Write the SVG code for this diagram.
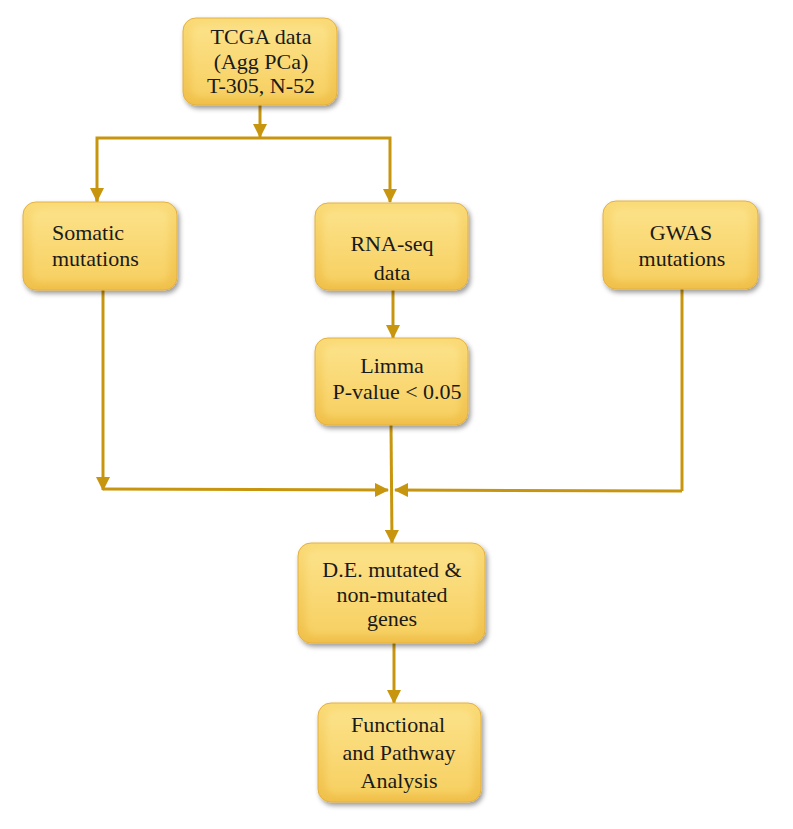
<svg xmlns="http://www.w3.org/2000/svg" width="793" height="829" viewBox="0 0 793 829">
<defs>
<linearGradient id="g" x1="0" y1="0" x2="0" y2="1">
<stop offset="0" stop-color="#FADB78"/>
<stop offset="1" stop-color="#F0C04A"/>
</linearGradient>
<linearGradient id="gi" x1="0" y1="0" x2="0" y2="1">
<stop offset="0" stop-color="#FCE289"/>
<stop offset="1" stop-color="#F7D062"/>
</linearGradient>
<filter id="sh" x="-10%" y="-10%" width="125%" height="130%">
<feDropShadow dx="2" dy="3" stdDeviation="2.5" flood-color="#000" flood-opacity="0.4"/>
</filter>
<filter id="bl"><feGaussianBlur stdDeviation="3"/></filter>
<marker id="ah" viewBox="0 0 14 14" refX="13" refY="7" markerWidth="14" markerHeight="14" markerUnits="userSpaceOnUse" orient="auto">
<path d="M0,0 L14,7 L0,14 z" fill="#C8960E"/>
</marker>
</defs>
<style>
.box{fill:url(#g);stroke:#E3B040;stroke-width:1;filter:url(#sh)}
.in{fill:url(#gi);filter:url(#bl)}
.t{font-family:"Liberation Serif","DejaVu Serif",serif;font-size:22px;fill:#1a1a1a;text-anchor:middle}
.c{fill:none;stroke:#C8960E;stroke-width:3}
</style>
<rect width="793" height="829" fill="#fff"/>
<g id="connectors">
<line class="c" x1="260" y1="105" x2="260" y2="137" marker-end="url(#ah)"/>
<polyline class="c" points="97,202 97,138 390,138 390,202" marker-end="url(#ah)"/>
<line class="c" x1="97" y1="190" x2="97" y2="201" marker-end="url(#ah)"/>
<line class="c" x1="393" y1="290" x2="393" y2="338" marker-end="url(#ah)"/>
<line class="c" x1="103" y1="290" x2="103" y2="490" marker-end="url(#ah)"/>
<line class="c" x1="103" y1="489" x2="388" y2="490" marker-end="url(#ah)"/>
<line class="c" x1="682" y1="289" x2="682" y2="491"/>
<line class="c" x1="682" y1="491" x2="395" y2="490" marker-end="url(#ah)"/>
<line class="c" x1="391" y1="425" x2="392" y2="543" marker-end="url(#ah)"/>
<line class="c" x1="394" y1="643" x2="394" y2="703" marker-end="url(#ah)"/>
</g>
<g id="tcga">
<rect class="box" x="183" y="18" width="154" height="87" rx="13"/>
<rect class="in" x="191" y="25" width="138" height="72" rx="9"/>
<text class="t" x="261" y="44">TCGA data</text>
<text class="t" x="261" y="69">(Agg PCa)</text>
<text class="t" x="261" y="93">T-305, N-52</text>
</g>
<g id="somatic">
<rect class="box" x="23" y="202" width="154" height="88" rx="13"/>
<rect class="in" x="31" y="209" width="138" height="73" rx="9"/>
<text class="t" x="52" y="240" style="text-anchor:start">Somatic</text>
<text class="t" x="52" y="266" style="text-anchor:start">mutations</text>
</g>
<g id="rnaseq">
<rect class="box" x="315" y="203" width="153" height="87" rx="13"/>
<rect class="in" x="323" y="210" width="137" height="72" rx="9"/>
<text class="t" x="392" y="251">RNA-seq</text>
<text class="t" x="392" y="280">data</text>
</g>
<g id="gwas">
<rect class="box" x="603" y="201" width="155" height="88" rx="13"/>
<rect class="in" x="611" y="208" width="139" height="73" rx="9"/>
<text class="t" x="681" y="240">GWAS</text>
<text class="t" x="682" y="266">mutations</text>
</g>
<g id="limma">
<rect class="box" x="315" y="338" width="153" height="87" rx="13"/>
<rect class="in" x="323" y="345" width="137" height="72" rx="9"/>
<text class="t" x="392" y="373">Limma</text>
<text class="t" x="397" y="399">P-value &lt; 0.05</text>
</g>
<g id="de">
<rect class="box" x="298" y="543" width="187" height="100" rx="13"/>
<rect class="in" x="306" y="550" width="171" height="85" rx="9"/>
<text class="t" x="392" y="577">D.E. mutated &amp;</text>
<text class="t" x="392" y="602">non-mutated</text>
<text class="t" x="392" y="626">genes</text>
</g>
<g id="functional">
<rect class="box" x="318" y="703" width="163" height="99" rx="13"/>
<rect class="in" x="326" y="710" width="147" height="84" rx="9"/>
<text class="t" x="398" y="732">Functional</text>
<text class="t" x="399" y="760">and Pathway</text>
<text class="t" x="399" y="788">Analysis</text>
</g>
</svg>
